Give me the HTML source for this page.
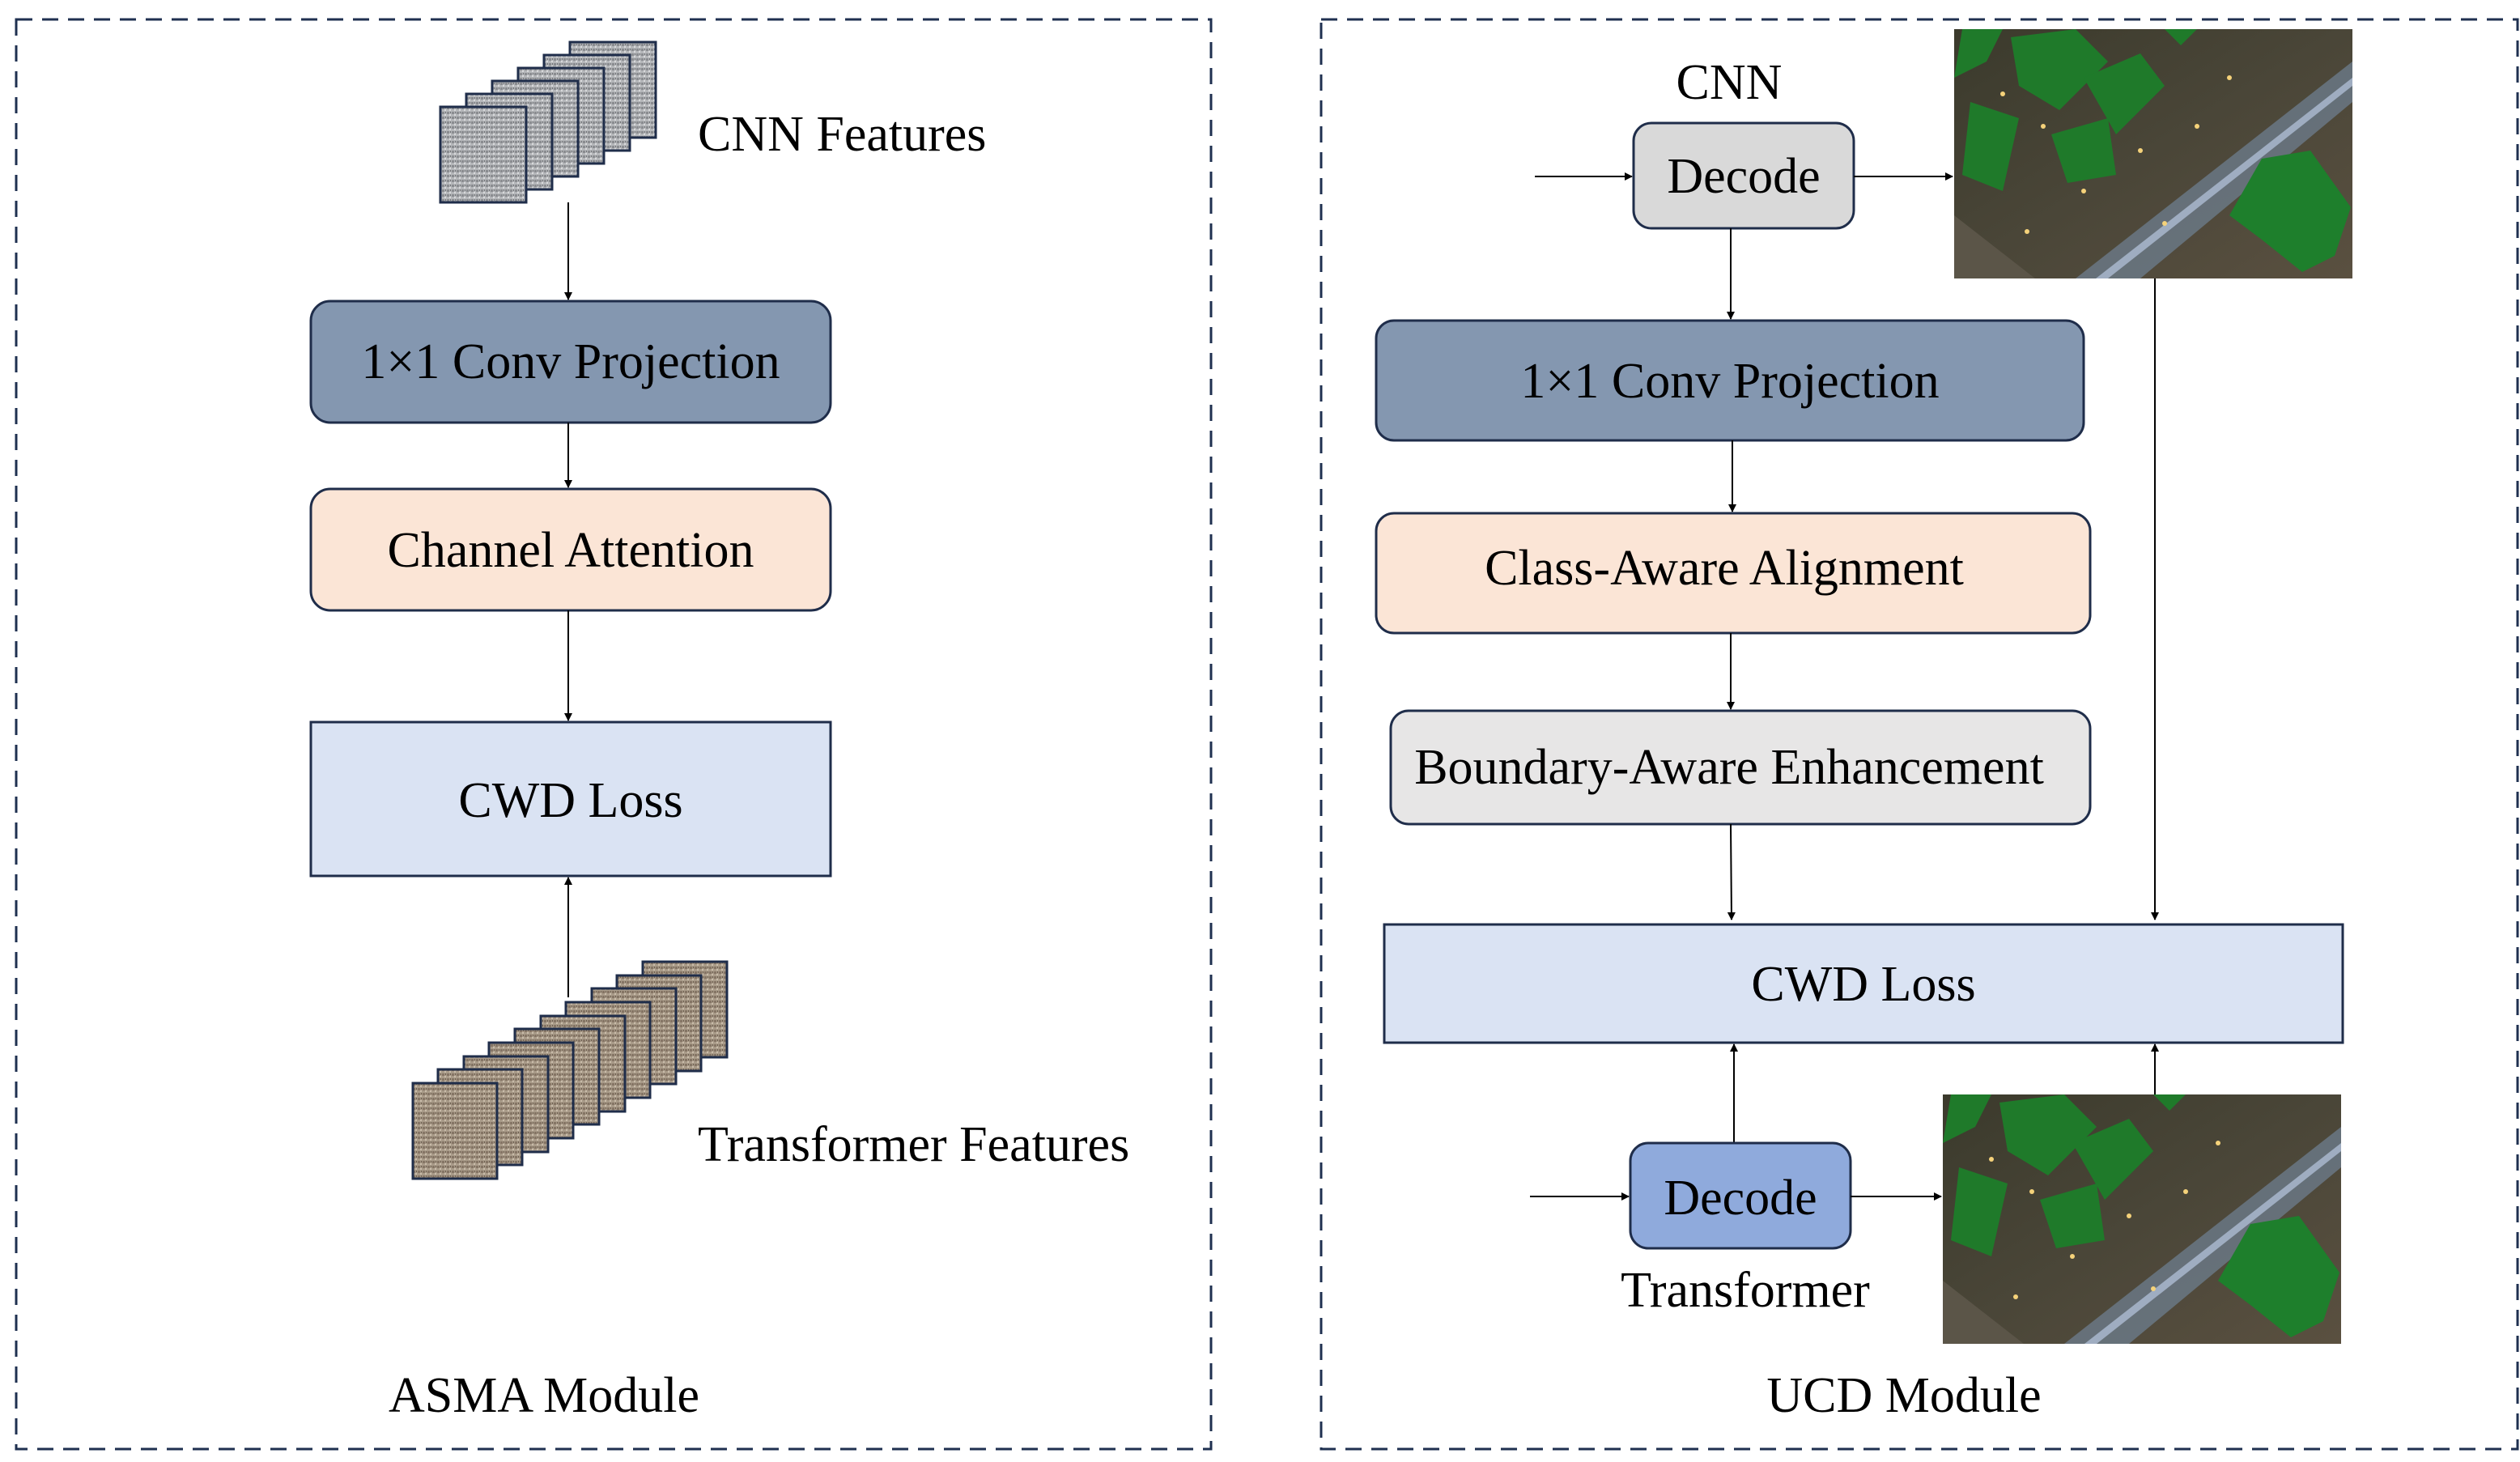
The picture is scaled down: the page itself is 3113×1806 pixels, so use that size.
<!DOCTYPE html>
<html><head><meta charset="utf-8"><style>html,body{margin:0;padding:0;background:#fff}svg{display:block}</style></head><body>
<svg xmlns="http://www.w3.org/2000/svg" width="3113" height="1806" viewBox="0 0 3113 1806" font-family="'Liberation Serif', serif">
<defs>
<pattern id="pg" width="6" height="6" patternUnits="userSpaceOnUse"><rect width="6" height="6" fill="#b4b6b9"/><rect width="3" height="3" fill="#8a8c90"/><rect x="3" y="3" width="2" height="2" fill="#d8d9db"/><rect x="4" y="0" width="1" height="2" fill="#6f7175"/></pattern>
<pattern id="pb" width="6" height="6" patternUnits="userSpaceOnUse"><rect width="6" height="6" fill="#a89a88"/><rect width="3" height="3" fill="#857565"/><rect x="3" y="3" width="2" height="2" fill="#c9bcaa"/><rect x="4" y="0" width="1" height="2" fill="#6a5c4d"/></pattern>
<marker id="ah" markerWidth="10" markerHeight="10" refX="9" refY="5" orient="auto" markerUnits="userSpaceOnUse" viewBox="0 0 10 10"><path d="M0,0 L10,5 L0,10 z" fill="#000"/></marker>
<linearGradient id="aer" x1="0" y1="0" x2="1" y2="1"><stop offset="0" stop-color="#3b3a2c"/><stop offset="0.5" stop-color="#4a4638"/><stop offset="1" stop-color="#5a5040"/></linearGradient>
<g id="aerial">
<rect width="492" height="308" fill="url(#aer)"/>
<polygon points="150,308 492,40 492,90 230,308" fill="#6c7a8a" opacity="0.8"/>
<polygon points="175,308 492,60 492,70 190,308" fill="#b8c8e0" opacity="0.7"/>
<polygon points="0,230 100,308 0,308" fill="#5b5548"/>
<polygon points="10,0 60,0 40,40 0,60" fill="#1f7a2a"/>
<polygon points="70,10 150,0 190,40 130,100 80,70" fill="#1f7a2a"/>
<polygon points="160,60 230,30 260,70 200,130" fill="#1f7a2a"/>
<polygon points="20,90 80,110 60,200 10,180" fill="#1f7a2a"/>
<polygon points="120,130 190,110 200,180 140,190" fill="#1f7a2a"/>
<polygon points="260,0 300,0 280,20" fill="#1f7a2a"/>
<polygon points="380,160 440,150 490,220 470,280 430,300 380,260 340,230" fill="#1e7f2c"/>
<g fill="#f5d27a"><circle cx="60" cy="80" r="3"/><circle cx="110" cy="120" r="3"/><circle cx="160" cy="200" r="3"/><circle cx="230" cy="150" r="3"/><circle cx="300" cy="120" r="3"/><circle cx="260" cy="240" r="3"/><circle cx="90" cy="250" r="3"/><circle cx="340" cy="60" r="3"/></g>
</g>
</defs>

<rect x="20" y="24" width="1476" height="1766" fill="none" stroke="#1f3050" stroke-width="3" stroke-dasharray="20,12"/>
<rect x="1632" y="24" width="1478" height="1766" fill="none" stroke="#1f3050" stroke-width="3" stroke-dasharray="20,12"/>

<g stroke="#1f2d4a" stroke-width="3" fill="url(#pg)">
<rect x="704" y="52" width="106" height="118"/>
<rect x="672" y="68" width="106" height="118"/>
<rect x="640" y="84" width="106" height="118"/>
<rect x="608" y="100" width="106" height="118"/>
<rect x="576" y="116" width="106" height="118"/>
<rect x="544" y="132" width="106" height="118"/>
</g>
<text x="862" y="186" font-size="62">CNN Features</text>
<line x1="702" y1="250" x2="702" y2="370" stroke="#000" stroke-width="2" marker-end="url(#ah)"/>

<rect x="384" y="372" width="642" height="150" rx="24" fill="#8497b0" stroke="#1f2d4a" stroke-width="3"/>
<text x="705" y="467" font-size="62" text-anchor="middle">1×1 Conv Projection</text>
<line x1="702" y1="522" x2="702" y2="602" stroke="#000" stroke-width="2" marker-end="url(#ah)"/>
<rect x="384" y="604" width="642" height="150" rx="24" fill="#fbe5d6" stroke="#1f2d4a" stroke-width="3"/>
<text x="705" y="700" font-size="62" text-anchor="middle">Channel Attention</text>
<line x1="702" y1="754" x2="702" y2="890" stroke="#000" stroke-width="2" marker-end="url(#ah)"/>
<rect x="384" y="892" width="642" height="190" fill="#dae3f3" stroke="#1f2d4a" stroke-width="3"/>
<text x="705" y="1009" font-size="62" text-anchor="middle">CWD Loss</text>
<line x1="702" y1="1232" x2="702" y2="1084" stroke="#000" stroke-width="2" marker-end="url(#ah)"/>

<g stroke="#1f2d4a" stroke-width="3" fill="url(#pb)">
<rect x="794" y="1188" width="104" height="118"/>
<rect x="762" y="1205" width="104" height="118"/>
<rect x="731" y="1221" width="104" height="118"/>
<rect x="699" y="1238" width="104" height="118"/>
<rect x="668" y="1255" width="104" height="118"/>
<rect x="636" y="1271" width="104" height="118"/>
<rect x="604" y="1288" width="104" height="118"/>
<rect x="573" y="1305" width="104" height="118"/>
<rect x="541" y="1321" width="104" height="118"/>
<rect x="510" y="1338" width="104" height="118"/>
</g>
<text x="862" y="1434" font-size="62">Transformer Features</text>
<text x="672" y="1744" font-size="62" text-anchor="middle">ASMA Module</text>

<text x="2136" y="122" font-size="62" text-anchor="middle">CNN</text>
<line x1="1896" y1="218" x2="2016" y2="218" stroke="#000" stroke-width="2" marker-end="url(#ah)"/>
<rect x="2018" y="152" width="272" height="130" rx="22" fill="#d9d9d9" stroke="#1f2d4a" stroke-width="3"/>
<text x="2154" y="238" font-size="62" text-anchor="middle">Decode</text>
<line x1="2290" y1="218" x2="2412" y2="218" stroke="#000" stroke-width="2" marker-end="url(#ah)"/>
<use href="#aerial" x="2414" y="36"/>
<line x1="2662" y1="344" x2="2662" y2="1136" stroke="#000" stroke-width="2" marker-end="url(#ah)"/>
<line x1="2138" y1="282" x2="2138" y2="394" stroke="#000" stroke-width="2" marker-end="url(#ah)"/>

<rect x="1700" y="396" width="874" height="148" rx="22" fill="#8497b0" stroke="#1f2d4a" stroke-width="3"/>
<text x="2137" y="491" font-size="62" text-anchor="middle">1×1 Conv Projection</text>
<line x1="2140" y1="544" x2="2140" y2="632" stroke="#000" stroke-width="2" marker-end="url(#ah)"/>
<rect x="1700" y="634" width="882" height="148" rx="22" fill="#fbe5d6" stroke="#1f2d4a" stroke-width="3"/>
<text x="2130" y="722" font-size="62" text-anchor="middle">Class-Aware Alignment</text>
<line x1="2138" y1="782" x2="2138" y2="876" stroke="#000" stroke-width="2" marker-end="url(#ah)"/>
<rect x="1718" y="878" width="864" height="140" rx="22" fill="#e7e6e6" stroke="#1f2d4a" stroke-width="3"/>
<text x="2136" y="968" font-size="62" text-anchor="middle">Boundary-Aware Enhancement</text>
<line x1="2138" y1="1018" x2="2139" y2="1136" stroke="#000" stroke-width="2" marker-end="url(#ah)"/>

<rect x="1710" y="1142" width="1184" height="146" fill="#dae3f3" stroke="#1f2d4a" stroke-width="3"/>
<text x="2302" y="1236" font-size="62" text-anchor="middle">CWD Loss</text>
<line x1="2142" y1="1412" x2="2142" y2="1290" stroke="#000" stroke-width="2" marker-end="url(#ah)"/>
<line x1="2662" y1="1352" x2="2662" y2="1290" stroke="#000" stroke-width="2" marker-end="url(#ah)"/>

<line x1="1890" y1="1478" x2="2012" y2="1478" stroke="#000" stroke-width="2" marker-end="url(#ah)"/>
<rect x="2014" y="1412" width="272" height="130" rx="22" fill="#8faadc" stroke="#1f2d4a" stroke-width="3"/>
<text x="2150" y="1500" font-size="62" text-anchor="middle">Decode</text>
<line x1="2286" y1="1478" x2="2398" y2="1478" stroke="#000" stroke-width="2" marker-end="url(#ah)"/>
<use href="#aerial" x="2400" y="1352"/>
<text x="2156" y="1614" font-size="62" text-anchor="middle">Transformer</text>
<text x="2352" y="1744" font-size="62" text-anchor="middle">UCD Module</text>
</svg>
</body></html>
